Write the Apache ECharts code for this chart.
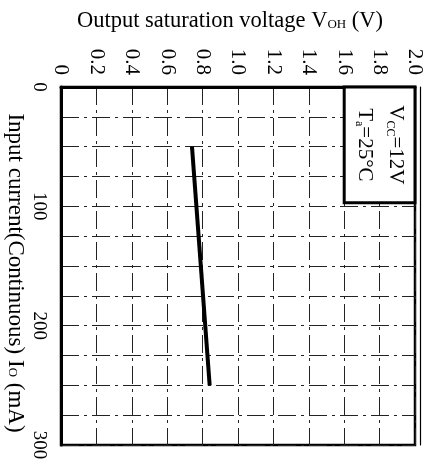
<!DOCTYPE html>
<html>
<head>
<meta charset="utf-8">
<script src="https://cdn.jsdelivr.net/npm/echarts@6/dist/echarts.min.js"></script>
<style>
  html, body { margin: 0; padding: 0; background: #fff; }
  #c { width: 429px; height: 469px; }
</style>
</head>
<body>
<div id="c"></div>
<script>
// Saturation voltage vs. input current (continuous), Vcc = 12 V, Ta = 25 °C
const currentMA = [50, 250];          // input current Io (mA)
const voltageV = [0.74, 0.84];        // output saturation voltage VOH (V)

const voltMin = 0, voltMax = 2.0, voltStep = 0.2;
const currentMin = 0, currentMax = 300, currentStep = 25, currentLabelStep = 100;

// condition box in the upper right corner (axis units)
const boxVolt = [1.6, 2.0];
const boxCurrent = [0, 97];

const serif = 'Liberation Serif';
const ink = '#000';
const gridDash = { color: '#222', width: 1, type: [18, 5, 3, 5] };

const chart = echarts.init(document.getElementById('c'), null, { renderer: 'canvas' });

chart.setOption({
  animation: false,
  backgroundColor: '#fff',
  grid: {
    left: 61, right: 14, top: 87, bottom: 24,
    outerBoundsMode: 'none',
    containLabel: false,
    show: true, borderColor: ink, borderWidth: 2.5
  },
  xAxis: {
    type: 'value',
    position: 'top',
    min: voltMin, max: voltMax, interval: voltStep,
    axisLine: { show: true, lineStyle: { color: ink, width: 3 } },
    axisTick: { show: false },
    axisLabel: {
      rotate: -90, margin: 12,
      fontFamily: serif, fontSize: 21, color: ink,
      formatter: v => (v === 0 ? '0' : v.toFixed(1))
    },
    splitLine: { show: true, lineStyle: gridDash },
    name: '{t|Output saturation voltage V}{s|OH}{t| (V)}',
    nameLocation: 'middle',
    nameGap: 52,
    nameMoveOverlap: false,
    nameTextStyle: {
      padding: [0, 16, 0, 0],
      rich: {
        t: { fontFamily: serif, fontSize: 22.5, color: ink, lineHeight: 28 },
        s: { fontFamily: serif, fontSize: 13, color: ink, lineHeight: 13, verticalAlign: 'bottom', padding: [0, 0, 4, 0] }
      }
    }
  },
  yAxis: [{
    type: 'value',
    inverse: true,
    min: currentMin, max: currentMax, interval: currentStep,
    axisLine: { show: true, lineStyle: { color: ink, width: 3 } },
    axisTick: { show: false },
    axisLabel: {
      rotate: -90, margin: 13,
      fontFamily: serif, fontSize: 19, color: ink,
      formatter: v => (v % currentLabelStep === 0 ? String(v) : '')
    },
    splitLine: { show: true, lineStyle: gridDash },
    name: '{t|Input current(Continuous) I}{s|O}{t| (mA)}',
    nameLocation: 'middle',
    nameRotate: -90,
    nameGap: 34,
    nameMoveOverlap: false,
    nameTextStyle: {
      padding: [0, 0, 0, 14],
      rich: {
        t: { fontFamily: serif, fontSize: 23, color: ink, lineHeight: 24 },
        s: { fontFamily: serif, fontSize: 13, color: ink, lineHeight: 13, verticalAlign: 'bottom', padding: [0, 0, 3, 0] }
      }
    }
  }, {
    type: 'value',
    position: 'right',
    offset: 5,
    inverse: true,
    min: currentMin, max: currentMax,
    axisLine: { show: true, lineStyle: { color: ink, width: 1.2 } },
    axisTick: { show: false },
    axisLabel: { show: false },
    splitLine: { show: false }
  }],
  series: [{
    type: 'line',
    yAxisIndex: 0,
    data: currentMA.map((c, i) => [voltageV[i], c]),
    symbol: 'none',
    lineStyle: { color: ink, width: 4 },
    markArea: {
      silent: true,
      itemStyle: { color: '#fff', borderColor: ink, borderWidth: 3 },
      label: {
        show: true,
        position: 'inside',
        rotate: -90,
        formatter: '{a|V}{b|CC}{a|=12V}\n{a|T}{b|a}{a|=25°C}',
        rich: {
          a: { fontFamily: serif, fontSize: 21, color: ink, lineHeight: 31 },
          b: { fontFamily: serif, fontSize: 12, color: ink, lineHeight: 12, verticalAlign: 'bottom', padding: [0, 0, 5, 0] }
        }
      },
      data: [[
        { coord: [boxVolt[0], boxCurrent[0]] },
        { coord: [boxVolt[1], boxCurrent[1]] }
      ]]
    }
  }]
});
</script>
</body>
</html>
